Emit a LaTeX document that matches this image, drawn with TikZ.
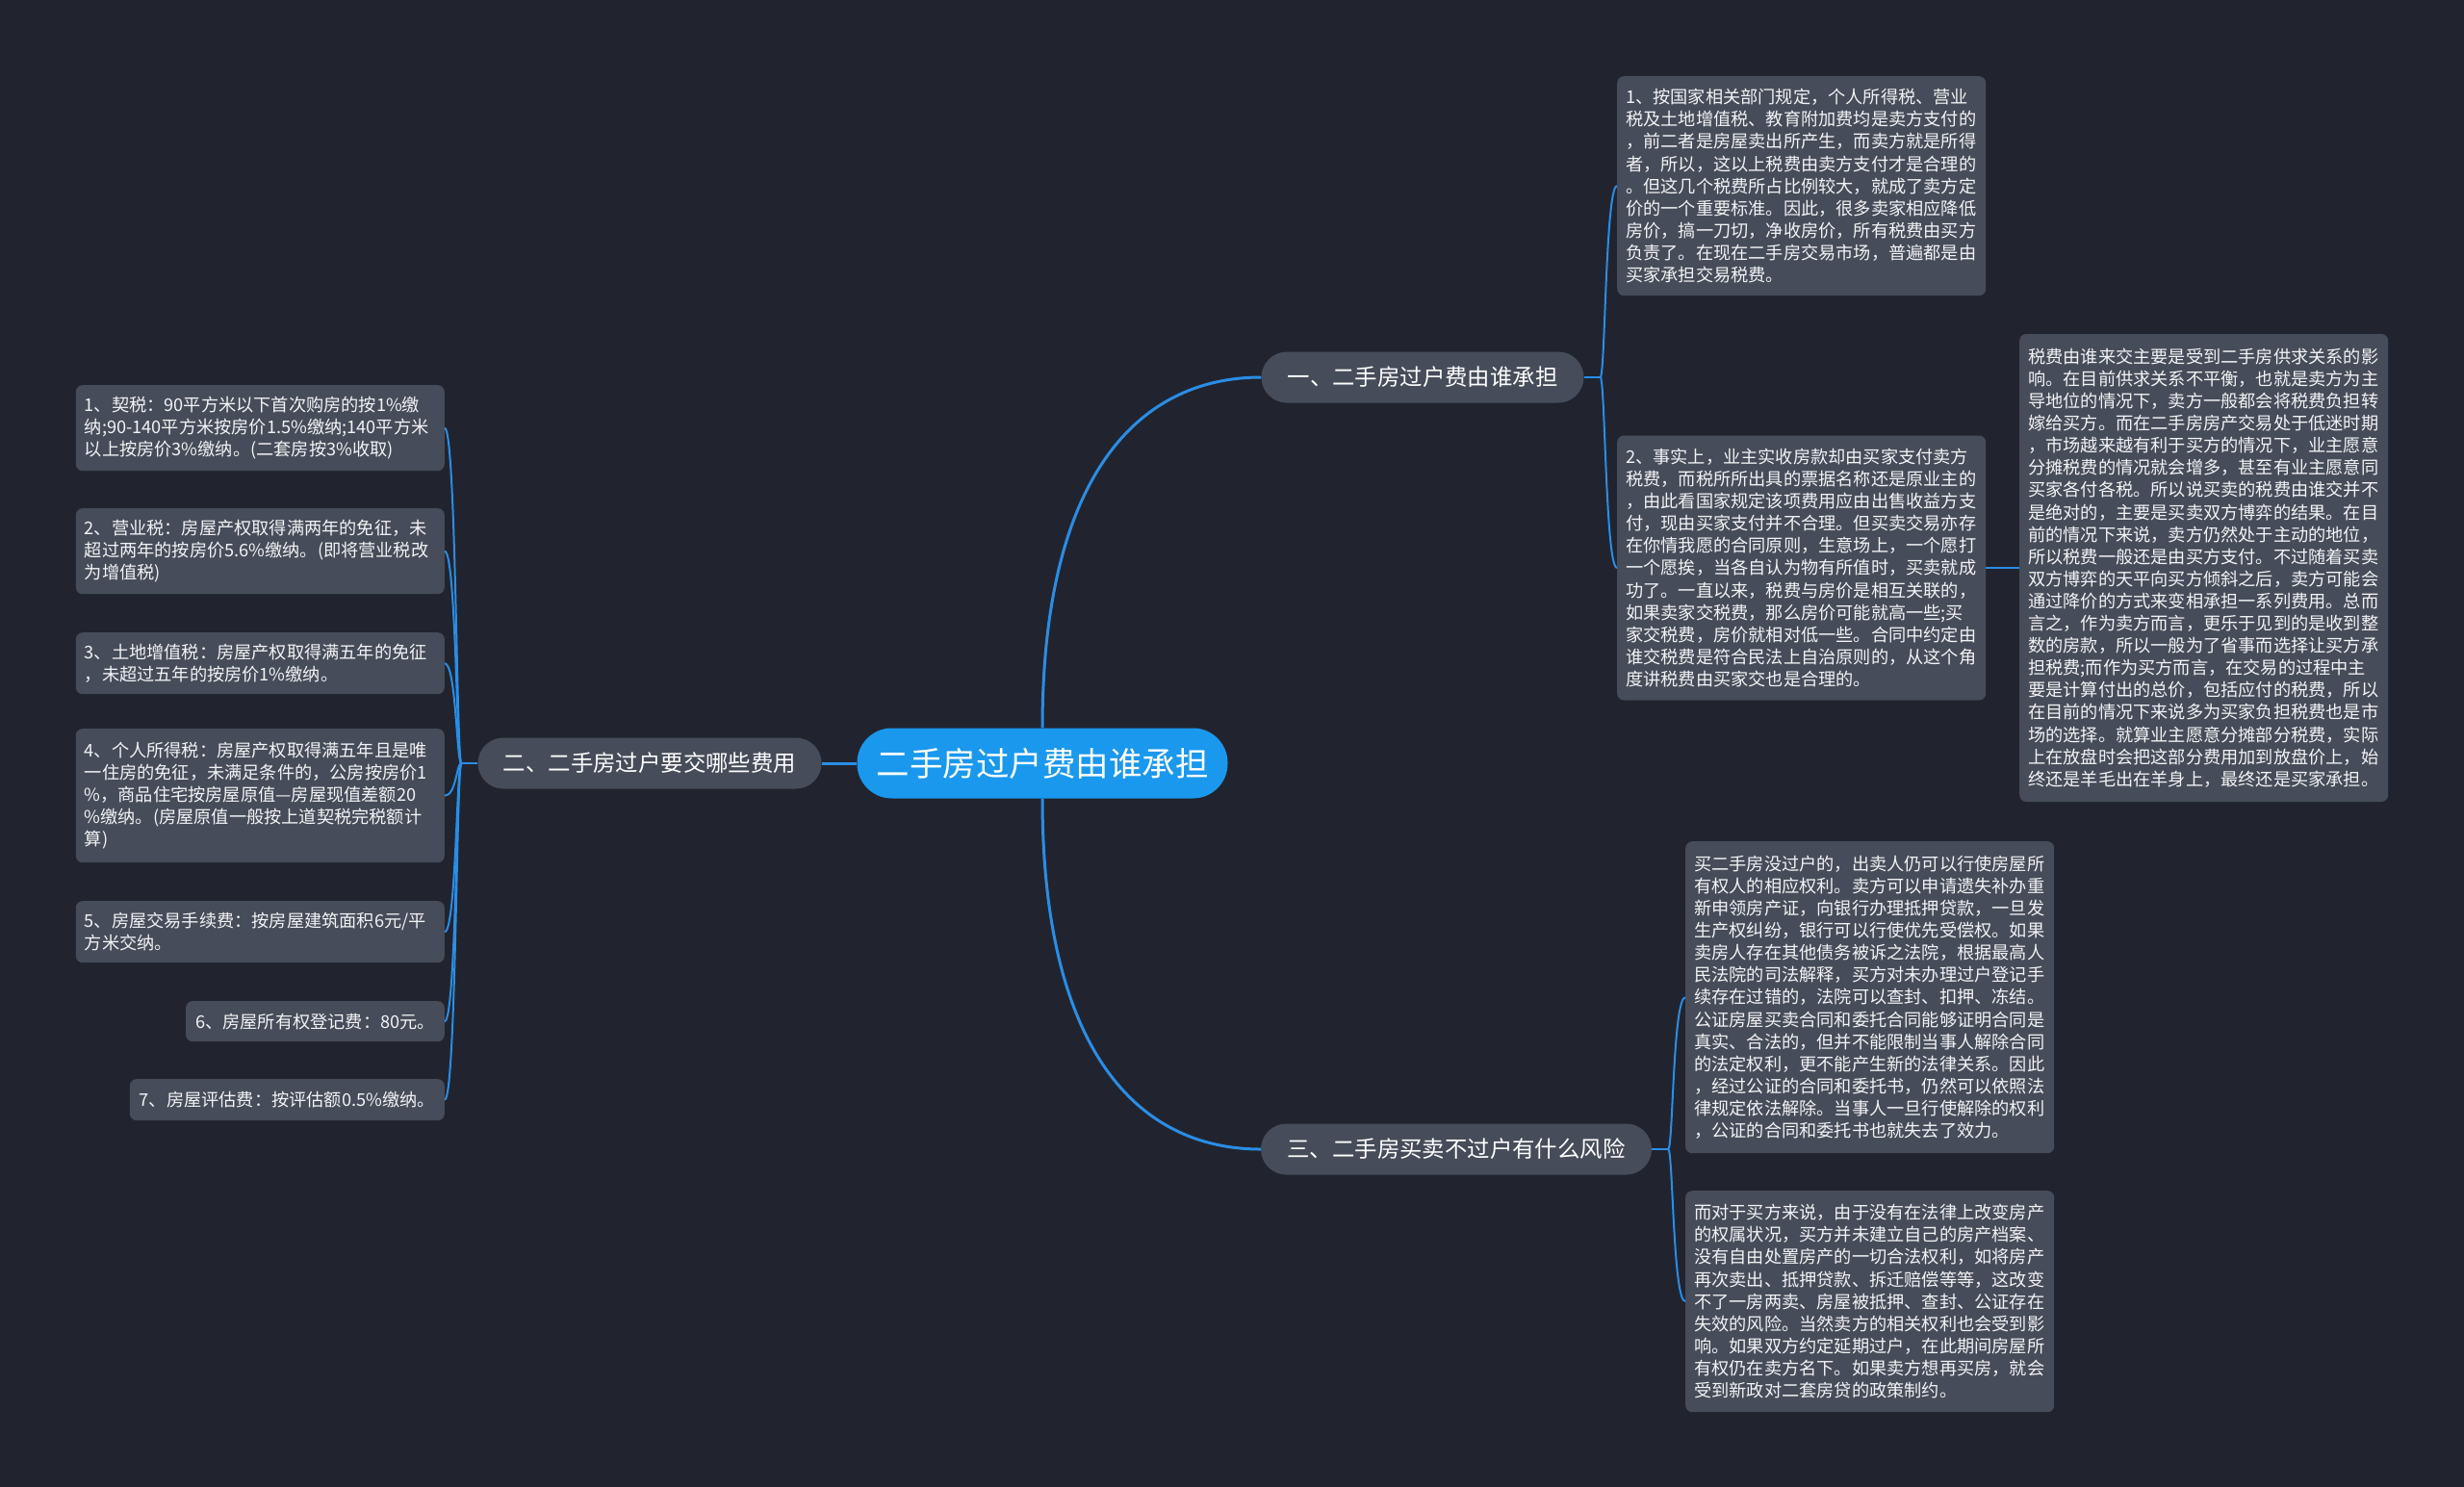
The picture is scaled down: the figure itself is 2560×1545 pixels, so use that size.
\documentclass[tikz,border=0pt]{standalone}
\usepackage{fontspec}
\newfontfamily\cjk{Noto Sans CJK SC}
\definecolor{bgnavy}{HTML}{21242E}
\definecolor{cardgray}{HTML}{474C5A}
\definecolor{cardtext}{HTML}{F2F3F5}
\definecolor{rootblue}{HTML}{1A98EE}
\definecolor{linkblue}{HTML}{2A8DE6}
\tikzset{
	rootnode/.style = {fill = rootblue, text = white, rounded corners = 36pt, minimum width = 385pt, minimum height = 73pt, inner sep = 0pt, font = \cjk\fontsize{34.5}{40}\selectfont},
	topicnode/.style = {fill = cardgray, text = white, rounded corners = 26.5pt, minimum height = 53pt, inner sep = 0pt, font = \cjk\fontsize{23.4}{28}\selectfont},
	cardnode/.style = {fill = cardgray, text = cardtext, rounded corners = 7pt, inner xsep = 9pt, inner ysep = 0pt, align = left, font = \cjk\fontsize{18.2}{23.1}\selectfont},
	widecard/.style = {cardnode, text width = 365pt},
	branchline/.style = {draw = linkblue, line width = 3pt},
	twigline/.style = {draw = linkblue, line width = 2pt},
}
\begin{document}
\begin{tikzpicture} [x = 1pt, y = -1pt]
	\fill [bgnavy] (0,0) rectangle (2560,1545);
	\node [rootnode] (root) at (1083,793) {二手房过户费由谁承担};
	\node [topicnode, minimum width = 335pt] (t1) at (1478,392) {一、二手房过户费由谁承担};
	\node [topicnode, minimum width = 357pt] (t2) at (675,793) {二、二手房过户要交哪些费用};
	\node [topicnode, minimum width = 406pt] (t3) at (1513,1194) {三、二手房买卖不过户有什么风险};
	\node [widecard, minimum height = 228pt, anchor = north west] (r11) at (1680,79) {1、按国家相关部门规定，个人所得税、营业\\税及土地增值税、教育附加费均是卖方支付的\\，前二者是房屋卖出所产生，而卖方就是所得\\者，所以，这以上税费由卖方支付才是合理的\\。但这几个税费所占比例较大，就成了卖方定\\价的一个重要标准。因此，很多卖家相应降低\\房价，搞一刀切，净收房价，所有税费由买方\\负责了。在现在二手房交易市场，普遍都是由\\买家承担交易税费。};
	\node [widecard, minimum height = 275pt, anchor = west] (r12) at (1680,590) {2、事实上，业主实收房款却由买家支付卖方\\税费，而税所所出具的票据名称还是原业主的\\，由此看国家规定该项费用应由出售收益方支\\付，现由买家支付并不合理。但买卖交易亦存\\在你情我愿的合同原则，生意场上，一个愿打\\一个愿挨，当各自认为物有所值时，买卖就成\\功了。一直以来，税费与房价是相互关联的，\\如果卖家交税费，那么房价可能就高一些;买\\家交税费，房价就相对低一些。合同中约定由\\谁交税费是符合民法上自治原则的，从这个角\\度讲税费由买家交也是合理的。};
	\node [widecard, minimum height = 486pt, anchor = west] (r13) at (2098,590) {税费由谁来交主要是受到二手房供求关系的影\\响。在目前供求关系不平衡，也就是卖方为主\\导地位的情况下，卖方一般都会将税费负担转\\嫁给买方。而在二手房房产交易处于低迷时期\\，市场越来越有利于买方的情况下，业主愿意\\分摊税费的情况就会增多，甚至有业主愿意同\\买家各付各税。所以说买卖的税费由谁交并不\\是绝对的，主要是买卖双方博弈的结果。在目\\前的情况下来说，卖方仍然处于主动的地位，\\所以税费一般还是由买方支付。不过随着买卖\\双方博弈的天平向买方倾斜之后，卖方可能会\\通过降价的方式来变相承担一系列费用。总而\\言之，作为卖方而言，更乐于见到的是收到整\\数的房款，所以一般为了省事而选择让买方承\\担税费;而作为买方而言，在交易的过程中主\\要是计算付出的总价，包括应付的税费，所以\\在目前的情况下来说多为买家负担税费也是市\\场的选择。就算业主愿意分摊部分税费，实际\\上在放盘时会把这部分费用加到放盘价上，始\\终还是羊毛出在羊身上，最终还是买家承担。};
	\node [widecard, minimum height = 89pt, anchor = north east] (l1) at (462,400) {1、契税：90平方米以下首次购房的按1\%缴\\纳;90-140平方米按房价1.5\%缴纳;140平方米\\以上按房价3\%缴纳。(二套房按3\%收取)};
	\node [widecard, minimum height = 89pt, anchor = north east] (l2) at (462,528) {2、营业税：房屋产权取得满两年的免征，未\\超过两年的按房价5.6\%缴纳。(即将营业税改\\为增值税)};
	\node [widecard, minimum height = 64pt, anchor = north east] (l3) at (462,657) {3、土地增值税：房屋产权取得满五年的免征\\，未超过五年的按房价1\%缴纳。};
	\node [widecard, minimum height = 139pt, anchor = north east] (l4) at (462,757) {4、个人所得税：房屋产权取得满五年且是唯\\一住房的免征，未满足条件的，公房按房价1\\\%，商品住宅按房屋原值—房屋现值差额20\\\%缴纳。(房屋原值一般按上道契税完税额计\\算)};
	\node [widecard, minimum height = 64pt, anchor = north east] (l5) at (462,936) {5、房屋交易手续费：按房屋建筑面积6元/平\\方米交纳。};
	\node [cardnode, inner xsep = 10pt, minimum height = 42pt, anchor = north east] (l6) at (462,1040) {6、房屋所有权登记费：80元。};
	\node [cardnode, inner xsep = 10pt, minimum height = 43pt, anchor = north east] (l7) at (462,1121) {7、房屋评估费：按评估额0.5\%缴纳。};
	\node [widecard, minimum height = 324pt, anchor = north west] (r31) at (1751,874) {买二手房没过户的，出卖人仍可以行使房屋所\\有权人的相应权利。卖方可以申请遗失补办重\\新申领房产证，向银行办理抵押贷款，一旦发\\生产权纠纷，银行可以行使优先受偿权。如果\\卖房人存在其他债务被诉之法院，根据最高人\\民法院的司法解释，买方对未办理过户登记手\\续存在过错的，法院可以查封、扣押、冻结。\\公证房屋买卖合同和委托合同能够证明合同是\\真实、合法的，但并不能限制当事人解除合同\\的法定权利，更不能产生新的法律关系。因此\\，经过公证的合同和委托书，仍然可以依照法\\律规定依法解除。当事人一旦行使解除的权利\\，公证的合同和委托书也就失去了效力。};
	\node [widecard, minimum height = 230pt, anchor = north west] (r32) at (1751,1237) {而对于买方来说，由于没有在法律上改变房产\\的权属状况，买方并未建立自己的房产档案、\\没有自由处置房产的一切合法权利，如将房产\\再次卖出、抵押贷款、拆迁赔偿等等，这改变\\不了一房两卖、房屋被抵押、查封、公证存在\\失效的风险。当然卖方的相关权利也会受到影\\响。如果双方约定延期过户，在此期间房屋所\\有权仍在卖方名下。如果卖方想再买房，就会\\受到新政对二套房贷的政策制约。};
	\draw [branchline] (root.north) .. controls +(0,-257) and +(-131,0) .. (t1.west);
	\draw [branchline] (root.south) .. controls +(0,257) and +(-131,0) .. (t3.west);
	\draw [branchline] (root.west) -- (t2.east);
	\path (t1.east) ++(17,0) coordinate (j1);
	\path (t2.west) ++(-17,0) coordinate (j2);
	\path (t3.east) ++(17,0) coordinate (j3);
	\draw [twigline] (t1.east) -- (j1);
	\draw [twigline] (t2.west) -- (j2);
	\draw [twigline] (t3.east) -- (j3);
	\foreach \c in {r11,r12}
		\draw [twigline] (j1) .. controls +(5,0) and +(-12,0) .. (\c.west);
	\foreach \c in {l1,l2,l3,l4,l5,l6,l7}
		\draw [twigline] (j2) .. controls +(-5,0) and +(12,0) .. (\c.east);
	\foreach \c in {r31,r32}
		\draw [twigline] (j3) .. controls +(5,0) and +(-13,0) .. (\c.west);
	\draw [twigline] (r12.east) -- (r13.west);
\end{tikzpicture}
\end{document}
